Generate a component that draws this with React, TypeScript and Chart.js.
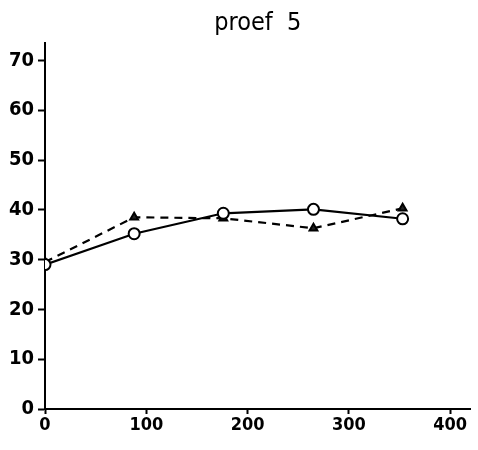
import React, { useEffect, useRef } from "react";
import { Chart, registerables } from "chart.js";

Chart.register(...registerables);

const xValues = [0, 88, 176, 265, 353];
const circleSeries = [29, 35.2, 39.3, 40.1, 38.2];
const triangleSeries = [29.5, 38.5, 38.3, 36.3, 40.3];
const yTicks = [0, 10, 20, 30, 40, 50, 60, 70];
const xTicks = [0, 100, 200, 300, 400];
const titleText = "proef  5";

const FONT = "'Liberation Sans Narrow', 'DejaVu Sans Condensed', sans-serif";
const TFONT = "'DejaVu Sans Condensed', 'DejaVu Sans', sans-serif";

export default function App() {
  const ref = useRef<HTMLCanvasElement | null>(null);
  useEffect(() => {
    document.body.style.margin = "0";
    const canvas = ref.current!;
    const chart = new Chart(canvas, {
      type: "line",
      data: {
        datasets: [
          {
            label: "circles",
            data: xValues.map((x, i) => ({ x, y: circleSeries[i] })),
            borderColor: "#000",
            borderWidth: 2.2,
            pointStyle: "circle",
            pointRadius: 5.5,
            pointBorderWidth: 2,
            pointBackgroundColor: "#fff",
            pointBorderColor: "#000",
            tension: 0,
          },
          {
            label: "triangles",
            data: xValues.map((x, i) => ({ x, y: triangleSeries[i] })),
            borderColor: "#000",
            borderWidth: 2.2,
            borderDash: [8, 6],
            pointStyle: "triangle",
            pointRadius: 4.5,
            pointBorderWidth: 2,
            pointBackgroundColor: "#222",
            pointBorderColor: "#000",
            tension: 0,
          },
        ],
      },
      options: {
        responsive: false,
        animation: false,
        layout: { padding: { left: 0, right: 6, top: 0, bottom: 0 } },
        plugins: {
          legend: { display: false },
          tooltip: { enabled: false },
          title: {
            display: true,
            fullSize: false,
            text: titleText,
            color: "#000",
            font: { family: TFONT, size: 25, weight: "normal" },
            padding: { top: 8, bottom: 5 },
          },
        },
        scales: {
          x: {
            type: "linear",
            min: 0,
            max: 420,
            afterBuildTicks: (s: any) => {
              s.ticks = xTicks.map((v) => ({ value: v }));
            },
            afterFit: (s: any) => {
              s.height = 41;
            },
            grid: {
              drawOnChartArea: false,
              drawTicks: true,
              tickLength: 5,
              tickWidth: 2,
              tickColor: "#000",
            },
            border: { display: true, color: "#000", width: 2 },
            ticks: {
              color: "#000",
              padding: 1,
              maxRotation: 0,
              font: { family: FONT, size: 18, weight: "bold" },
            },
          },
          y: {
            type: "linear",
            min: 0,
            max: 73.5,
            afterBuildTicks: (s: any) => {
              s.ticks = yTicks.map((v) => ({ value: v }));
            },
            afterFit: (s: any) => {
              s.width = 45;
            },
            grid: {
              drawOnChartArea: false,
              drawTicks: true,
              tickLength: 7,
              tickWidth: 2,
              tickColor: "#000",
            },
            border: { display: true, color: "#000", width: 2 },
            ticks: {
              color: "#000",
              padding: 4,
              font: { family: FONT, size: 20, weight: "bold" },
            },
          },
        },
      },
    } as any);
    return () => chart.destroy();
  }, []);
  return (
    <div style={{ width: 478, height: 450, background: "#fff" }}>
      <canvas ref={ref} width={478} height={450} />
    </div>
  );
}
